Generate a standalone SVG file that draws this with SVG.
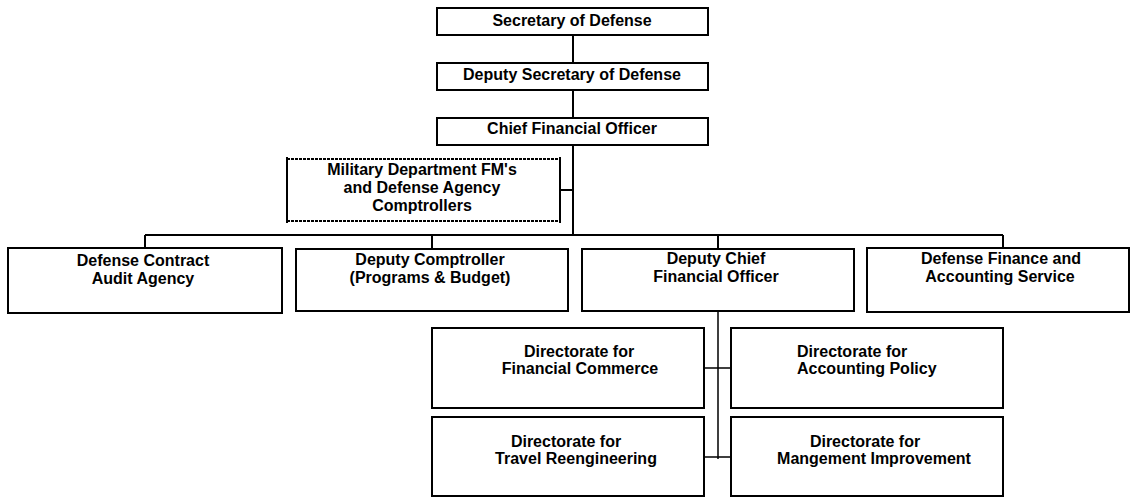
<svg xmlns="http://www.w3.org/2000/svg" width="1131" height="498" viewBox="0 0 1131 498">
<style>
.box{fill:#fff;stroke:#000;stroke-width:2}
.dbox{fill:#fff;stroke:none}
.t{font-family:"Liberation Sans",Arial,sans-serif;font-weight:bold;font-size:16px;fill:#000}
.c{text-anchor:middle}
.ln{stroke:#000;stroke-width:2;fill:none}
.thin{stroke:#000;stroke-width:1.5;fill:none}
</style>
<rect width="1131" height="498" fill="#fff"/>
<g id="connectors">
<path class="ln" d="M573 35V63M573 90V118M573 145V235M561 190H573M145 235H1003M145 235V248M432 235V249M718 235V249M1003 235V248"/>
<path class="thin" d="M718 311V459M704 368H731M704 457H731"/>
</g>
<g id="secdef">
<rect class="box" x="437" y="8" width="271" height="27"/>
<text class="t c" x="572" y="26">Secretary of Defense</text>
</g>
<g id="depsecdef">
<rect class="box" x="437" y="63" width="271" height="27"/>
<text class="t c" x="572" y="80">Deputy Secretary of Defense</text>
</g>
<g id="cfo">
<rect class="box" x="437" y="118" width="271" height="27"/>
<text class="t c" x="572" y="134">Chief Financial Officer</text>
</g>
<g id="military">
<rect class="dbox" x="287" y="159" width="273" height="62"/>
<path d="M287 159H560M287 221H560" stroke="#000" stroke-width="2" stroke-dasharray="3 1"/>
<path d="M287 157V223M560 157V223" stroke="#000" stroke-width="2"/>
<text class="t c" x="422" y="175">Military Department FM's</text>
<text class="t c" x="422" y="193">and Defense Agency</text>
<text class="t c" x="422" y="211">Comptrollers</text>
</g>
<g id="dcaa">
<rect class="box" x="8" y="248" width="274" height="65"/>
<text class="t c" x="143" y="266">Defense Contract</text>
<text class="t c" x="143" y="284">Audit Agency</text>
</g>
<g id="depcomp">
<rect class="box" x="296" y="249" width="272" height="62"/>
<text class="t c" x="430" y="265">Deputy Comptroller</text>
<text class="t c" x="430" y="283">(Programs &amp; Budget)</text>
</g>
<g id="depcfo">
<rect class="box" x="582" y="249" width="272" height="62"/>
<text class="t c" x="716" y="264">Deputy Chief</text>
<text class="t c" x="716" y="282">Financial Officer</text>
</g>
<g id="dfas">
<rect class="box" x="867" y="248" width="262" height="64"/>
<text class="t c" x="1001" y="264">Defense Finance and</text>
<text class="t c" x="1000" y="282">Accounting Service</text>
</g>
<g id="finCommerce">
<rect class="box" x="432" y="328" width="272" height="80"/>
<text class="t c" x="579" y="357">Directorate for</text>
<text class="t c" x="580" y="374">Financial Commerce</text>
</g>
<g id="acctPolicy">
<rect class="box" x="731" y="328" width="272" height="80"/>
<text class="t" x="797" y="357">Directorate for</text>
<text class="t" x="797" y="374">Accounting Policy</text>
</g>
<g id="travel">
<rect class="box" x="432" y="417" width="272" height="79"/>
<text class="t c" x="566" y="447">Directorate for</text>
<text class="t c" x="576" y="464">Travel Reengineering</text>
</g>
<g id="mgmt">
<rect class="box" x="731" y="417" width="272" height="79"/>
<text class="t c" x="865" y="447">Directorate for</text>
<text class="t c" x="874" y="464">Mangement Improvement</text>
</g>
</svg>
